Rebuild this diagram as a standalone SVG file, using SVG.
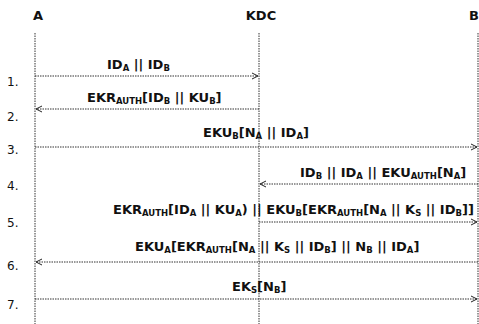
<svg xmlns="http://www.w3.org/2000/svg" width="479" height="324" viewBox="0 0 479 324">
<defs>
<style>
.t{font-family:"DejaVu Sans","Liberation Sans",sans-serif;font-weight:bold;font-size:13px;fill:#111}
.h{font-family:"DejaVu Sans","Liberation Sans",sans-serif;font-weight:bold;font-size:13px;fill:#111}
.n{font-family:"DejaVu Sans","Liberation Sans",sans-serif;font-size:12px;fill:#111}
.s{font-size:8.5px}
.life{stroke:#333;stroke-width:1;stroke-dasharray:1.5 1}
.msg{stroke:#333;stroke-width:1;stroke-dasharray:1.5 1;fill:none}
</style>
<marker id="ar" viewBox="0 0 8 8" refX="7" refY="4" markerWidth="8" markerHeight="8" markerUnits="userSpaceOnUse" orient="auto">
<path d="M1,1 L7,4 L1,7" fill="none" stroke="#222" stroke-width="1"/>
</marker>
</defs>
<rect width="479" height="324" fill="#fff"/>
<g id="A"><text class="h" x="38" y="20" text-anchor="middle">A</text><line class="life" x1="35" y1="33" x2="35" y2="324"/></g>
<g id="KDC"><text class="h" x="261" y="20" text-anchor="middle">KDC</text><line class="life" x1="259" y1="33" x2="259" y2="324"/></g>
<g id="B"><text class="h" x="469" y="20">B</text><line class="life" x1="478" y1="33" x2="478" y2="324"/></g>
<g id="steps">
<text class="n" x="7" y="86">1.</text>
<text class="n" x="7" y="121">2.</text>
<text class="n" x="7" y="154">3.</text>
<text class="n" x="7" y="190">4.</text>
<text class="n" x="7" y="227">5.</text>
<text class="n" x="7" y="270">6.</text>
<text class="n" x="7" y="309">7.</text>
</g>
<g id="connectors">
<line class="msg" x1="35" y1="76" x2="258" y2="76" marker-end="url(#ar)"/>
<line class="msg" x1="259" y1="109" x2="36" y2="109" marker-end="url(#ar)"/>
<line class="msg" x1="35" y1="147" x2="477" y2="147" marker-end="url(#ar)"/>
<line class="msg" x1="478" y1="184" x2="260" y2="184" marker-end="url(#ar)"/>
<line class="msg" x1="259" y1="222" x2="477" y2="222" marker-end="url(#ar)"/>
<line class="msg" x1="478" y1="262" x2="36" y2="262" marker-end="url(#ar)"/>
<line class="msg" x1="35" y1="299" x2="477" y2="299" marker-end="url(#ar)"/>
</g>
<g id="labels">
<text class="t" x="107" y="69">ID<tspan class="s" dy="2">A</tspan><tspan dy="-2"> || ID</tspan><tspan class="s" dy="2">B</tspan></text>
<text class="t" x="87" y="102">EKR<tspan class="s" dy="2">AUTH</tspan><tspan dy="-2">[ID</tspan><tspan class="s" dy="2">B</tspan><tspan dy="-2"> || KU</tspan><tspan class="s" dy="2">B</tspan><tspan dy="-2">]</tspan></text>
<text class="t" x="203" y="137">EKU<tspan class="s" dy="2">B</tspan><tspan dy="-2">[N</tspan><tspan class="s" dy="2">A</tspan><tspan dy="-2"> || ID</tspan><tspan class="s" dy="2">A</tspan><tspan dy="-2">]</tspan></text>
<text class="t" x="300" y="177">ID<tspan class="s" dy="2">B</tspan><tspan dy="-2"> || ID</tspan><tspan class="s" dy="2">A</tspan><tspan dy="-2"> || EKU</tspan><tspan class="s" dy="2">AUTH</tspan><tspan dy="-2">[N</tspan><tspan class="s" dy="2">A</tspan><tspan dy="-2">]</tspan></text>
<text class="t" x="113" y="214">EKR<tspan class="s" dy="2">AUTH</tspan><tspan dy="-2">[ID</tspan><tspan class="s" dy="2">A</tspan><tspan dy="-2"> || KU</tspan><tspan class="s" dy="2">A</tspan><tspan dy="-2">) || EKU</tspan><tspan class="s" dy="2">B</tspan><tspan dy="-2">[EKR</tspan><tspan class="s" dy="2">AUTH</tspan><tspan dy="-2">[N</tspan><tspan class="s" dy="2">A</tspan><tspan dy="-2"> || K</tspan><tspan class="s" dy="2">S</tspan><tspan dy="-2"> || ID</tspan><tspan class="s" dy="2">B</tspan><tspan dy="-2">]]</tspan></text>
<text class="t" x="135" y="251">EKU<tspan class="s" dy="2">A</tspan><tspan dy="-2">[EKR</tspan><tspan class="s" dy="2">AUTH</tspan><tspan dy="-2">[N</tspan><tspan class="s" dy="2">A</tspan><tspan dy="-2"> || K</tspan><tspan class="s" dy="2">S</tspan><tspan dy="-2"> || ID</tspan><tspan class="s" dy="2">B</tspan><tspan dy="-2">] || N</tspan><tspan class="s" dy="2">B</tspan><tspan dy="-2"> || ID</tspan><tspan class="s" dy="2">A</tspan><tspan dy="-2">]</tspan></text>
<text class="t" x="232" y="291">EK<tspan class="s" dy="2">S</tspan><tspan dy="-2">[N</tspan><tspan class="s" dy="2">B</tspan><tspan dy="-2">]</tspan></text>
</g>
</svg>
